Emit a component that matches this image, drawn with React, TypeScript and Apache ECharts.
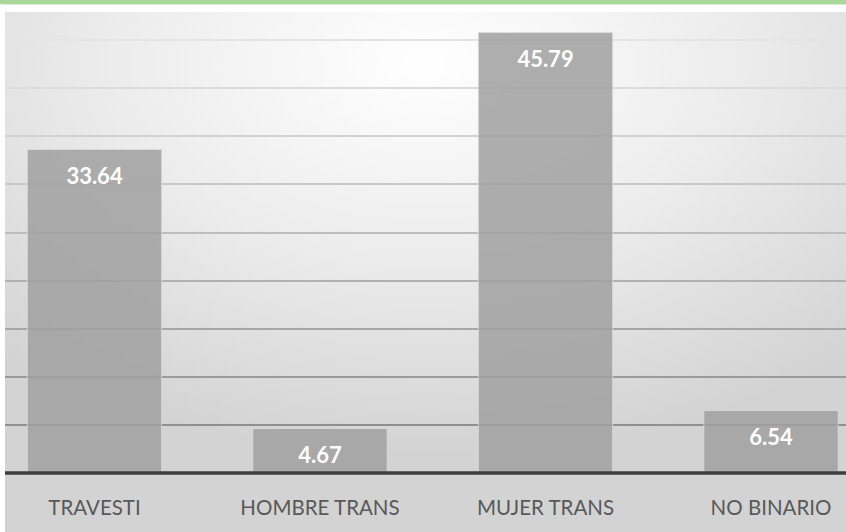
import React, { useEffect, useRef } from "react";
import * as echarts from "echarts";

const categories = ["TRAVESTI", "HOMBRE TRANS", "MUJER TRANS", "NO BINARIO"];
const values = [33.64, 4.67, 45.79, 6.54];
const gridColors = [
  "#8c8c8c", "#8f8f8f", "#9a9a9a", "#a6a6a6", "#b1b1b1",
  "#bdbdbd", "#c8c8c8", "#d2d2d2", "#dcdcdc", "#e4e4e4", "#eaeaea",
];

export default function App() {
  const ref = useRef<HTMLDivElement>(null);
  useEffect(() => {
    if (!ref.current) return;
    const chart = echarts.init(ref.current, null, { renderer: "svg" });
    chart.setOption({
      animation: false,
      backgroundColor: "#ffffff",
      graphic: [
        {
          type: "rect",
          z: -10,
          silent: true,
          shape: { x: 5, y: 12, width: 841, height: 520 },
          style: {
            fill: {
              type: "radial",
              x: 0.5,
              y: 0.1,
              r: 0.75,
              colorStops: [
                { offset: 0, color: "#ffffff" },
                { offset: 0.5, color: "#ececec" },
                { offset: 1, color: "#d3d3d3" },
              ],
            },
          },
        },
        {
          type: "rect",
          z: 100,
          silent: true,
          shape: { x: 0, y: 0, width: 846, height: 4.5 },
          style: { fill: "#a8d89b" },
        },
        {
          type: "rect",
          z: 100,
          silent: true,
          shape: { x: 0, y: 4.5, width: 5, height: 528 },
          style: { fill: "#ffffff" },
        },
      ],
      grid: {
        left: -18.25,
        right: -37.75,
        top: -8.5,
        bottom: 59,
        containLabel: false,
        outerBoundsMode: "none",
      },
      xAxis: {
        type: "category",
        data: categories,
        axisTick: { show: false },
        axisLine: { show: true, lineStyle: { color: "#3f3f3f", width: 3.5 } },
        axisLabel: {
          color: "#595959",
          fontFamily: "Lato",
          fontSize: 20.5,
          margin: 23,
        },
        z: 10,
      },
      yAxis: {
        type: "value",
        min: 0,
        max: 50,
        interval: 5,
        axisLabel: { show: false },
        axisLine: { show: false },
        axisTick: { show: false },
        splitLine: { show: true, lineStyle: { color: gridColors, width: 2 } },
      },
      series: [
        {
          type: "bar",
          data: values,
          barWidth: "60%",
          itemStyle: {
            color: "rgba(160,160,160,0.85)",
            borderColor: "rgba(225,225,225,0.7)",
            borderWidth: 1,
          },
          label: {
            show: true,
            position: "insideTop",
            distance: 15,
            color: "#ffffff",
            fontFamily: "Lato",
            fontWeight: "bold",
            fontSize: 22,
            formatter: (p: any) => p.value.toFixed(2),
          },
        },
      ],
    });
    return () => chart.dispose();
  }, []);
  return (
    <div style={{ position: "absolute", left: 0, top: 0, width: 846, height: 532 }}>
      <div ref={ref} style={{ width: 846, height: 532 }} />
    </div>
  );
}
